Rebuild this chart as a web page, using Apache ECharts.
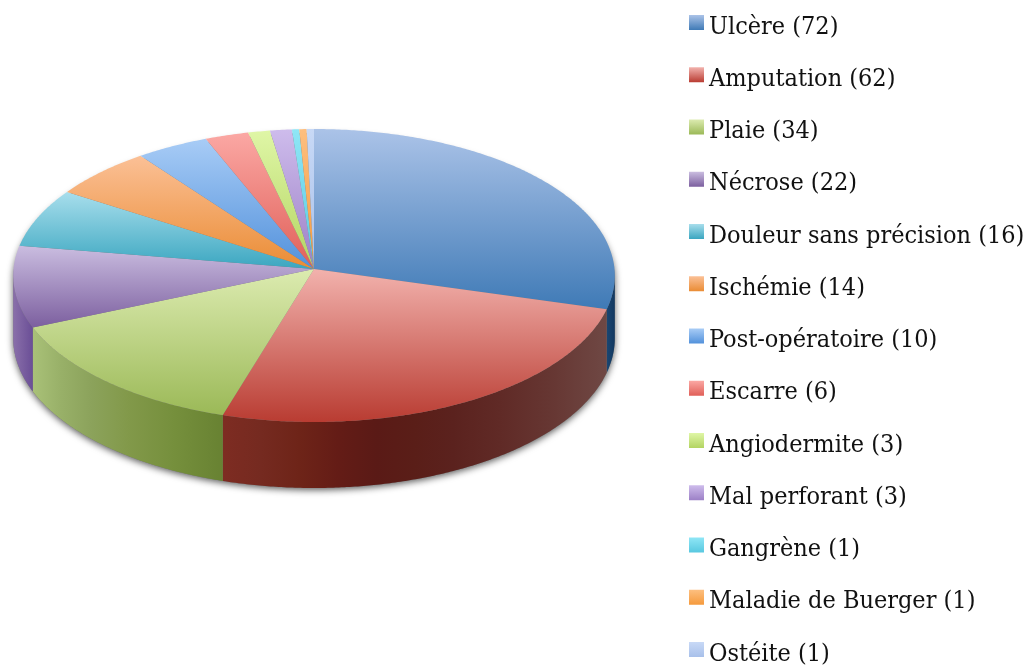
<!DOCTYPE html>
<html><head><meta charset="utf-8">
<style>html,body{margin:0;padding:0;background:#fff}#c{width:1031px;height:668px}</style>
<script src="https://cdn.jsdelivr.net/npm/echarts@6/dist/echarts.min.js"></script>
</head><body><div id="c"></div>
<script>
const categories = ['Ulcère','Amputation','Plaie','Nécrose','Douleur sans précision','Ischémie','Post-opératoire','Escarre','Angiodermite','Mal perforant','Gangrène','Maladie de Buerger','Ostéite'];
const values = [72,62,34,22,16,14,10,6,3,3,1,1,1];
const topLight = ['#abc3e8','#f2b2ad','#dcebb0','#cabde0','#a8deec','#fbc096','#a8ccf6','#fba8a4','#dff6a6','#cebcec','#8fe6f6','#fdbf80','#c8d9f6'];
const topDark = ['#3f7ab6','#b93c32','#9bb957','#7c5f9f','#3aa6c0','#ea8c34','#5291db','#e05f58','#b3d462','#9c80c6','#58c8e0','#f59a3c','#a8c0ea'];
const wallStops = {
  0:[[0,'#1a4672'],[1,'#123860']],
  1:[[0,'#7e2c22'],[.1,'#752a20'],[.2,'#6e2418'],[.3,'#641c16'],[.4,'#5a1a16'],[.5,'#5a1e18'],[.6,'#5b221e'],[.72,'#602a26'],[.85,'#663632'],[1,'#6f4844']],
  2:[[0,'#a9c178'],[.15,'#98b068'],[.3,'#8ca35c'],[.5,'#82994a'],[.75,'#758f3c'],[1,'#688232']],
  3:[[0,'#8a70aa'],[1,'#6a4e96']]
};
const total = values.reduce((a,b)=>a+b,0);
const CX=314, CY=269, R=300.5, S=146.2, K=0.0444;
const rad = d=>d*Math.PI/180;
function proj(t){const u=Math.sin(rad(t)),v=Math.cos(rad(t)),q=1+K*v;return [CX+R*u/q,CY-S*v/q,v];}
function depth(v){return 62.5-3.5*v;}
function down(t){const p=proj(t);return [p[0],p[1]+depth(p[2])];}
function arc(a,b,fn){const n=Math.max(2,Math.ceil(Math.abs(b-a)/0.5)),o=[];for(let i=0;i<=n;i++)o.push(fn(a+(b-a)*i/n));return o;}
const FRONT_A=92.5, FRONT_B=267.5;
const vgrad=(a,b)=>({type:'linear',x:0,y:0,x2:0,y2:1,colorStops:[{offset:0,color:a},{offset:1,color:b}]});
const hgrad=s=>({type:'linear',x:0,y:0,x2:1,y2:0,colorStops:s.map(p=>({offset:p[0],color:p[1]}))});
function slice(i){
  let before=0;for(let j=0;j<i;j++)before+=values[j];
  return [before/total*360,(before+values[i])/total*360];
}
const xy=p=>[p[0],p[1]];
const series=[{
  type:'custom',name:'socle',silent:true,coordinateSystem:'none',data:[total],z:1,
  renderItem(){
    const low=arc(FRONT_A,FRONT_B,down);
    const upper=arc(FRONT_B,360+FRONT_A,t=>{const p=proj(t);return [p[0],p[1]+4];});
    return {type:'polygon',shape:{points:low.concat(upper)},style:{fill:'#777',shadowBlur:7,shadowColor:'rgba(0,0,0,0.65)',shadowOffsetX:0,shadowOffsetY:2}};
  }
}];
categories.forEach((name,i)=>{
  series.push({
    type:'custom',name,silent:true,coordinateSystem:'none',z:2,
    data:[{name,value:values[i]}],
    itemStyle:{color:vgrad(topLight[i],topDark[i])},
    renderItem(){
      const [a,b]=slice(i),children=[];
      const wa=Math.max(a,FRONT_A),wb=Math.min(b,FRONT_B);
      if(wb>wa && wallStops[i]){
        children.push({type:'polygon',shape:{points:arc(wa,wb,t=>xy(proj(t))).concat(arc(wb,wa,down))},
          style:{fill:hgrad(wallStops[i])}});
      }
      children.push({type:'polygon',shape:{points:[[CX,CY]].concat(arc(a,b,t=>xy(proj(t))))},
        style:{fill:vgrad(topLight[i],topDark[i])},z2:10});
      return {type:'group',children};
    }
  });
});
const chart=echarts.init(document.getElementById('c'),null,{renderer:'canvas'});
const legendFont='"DejaVu Serif Condensed","Liberation Serif",serif';
chart.setOption({
  animation:false,
  backgroundColor:'#fff',
  legend:{
    orient:'vertical',left:689,top:3,height:760,padding:0,itemWidth:15,itemHeight:15,itemGap:13.25,icon:'rect',
    data:categories,selectedMode:false,
    formatter:n=>'{s| }\n{t|'+n+' ('+values[categories.indexOf(n)]+')}',
    textStyle:{fontFamily:legendFont,fontSize:25,color:'#111',
      rich:{s:{fontSize:1,height:9,lineHeight:9},t:{fontFamily:legendFont,fontSize:25,color:'#111',height:30,lineHeight:30}}}
  },
  series
});
</script></body></html>
